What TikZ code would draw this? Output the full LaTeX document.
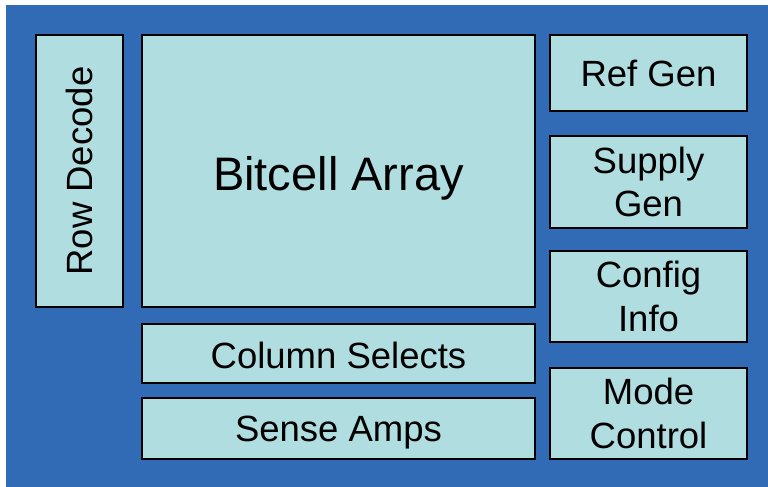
\documentclass[tikz,border=0pt]{standalone}
\usepackage{fontspec}
\setmainfont{Liberation Sans}
\definecolor{panelblue}{RGB}{49,106,181}
\definecolor{cellfill}{RGB}{176,221,224}
\tikzset{
  blk/.style={draw=black, fill=cellfill, line width=1.4pt, inner sep=0pt,
    align=center, font=\fontsize{36.5}{43.5}\selectfont},
  txt/.style={inner sep=0pt, align=center, font=\fontsize{36.5}{43.5}\selectfont}
}
\begin{document}
\begin{tikzpicture}[x=1pt,y=-1pt]
  \useasboundingbox (0,0) rectangle (768,487);
  \fill[panelblue] (6,5) rectangle (768,487);

  % left column
  \node[blk, minimum width=87pt, minimum height=272pt] (row) at (79.5,171) {};
  \node[txt, rotate=90] (rowtxt) at (row.center) {Row Decode};

  % array and its periphery
  \node[blk, minimum width=393pt, minimum height=272pt] (array) at (338.5,171) {};
  \node[txt, font=\fontsize{47}{52}\selectfont, yshift=-7pt] (arraytxt) at (array.center) {Bitcell Array};
  \node[blk, minimum width=393pt, minimum height=59pt] (colsel) at (338.5,353.5) {};
  \node[txt, yshift=-2pt] (colseltxt) at (colsel.center) {Column Selects};
  \node[blk, minimum width=393pt, minimum height=61pt] (sense) at (338.5,428.5) {};
  \node[txt, yshift=-4pt] (sensetxt) at (sense.center) {Sense Amps};

  % right column
  \node[blk, minimum width=197pt, minimum height=76pt] (ref) at (648.5,73) {Ref Gen};
  \node[blk, minimum width=197pt, minimum height=92pt] (supply) at (648.5,182) {Supply\\Gen};
  \node[blk, minimum width=197pt, minimum height=91pt] (config) at (648.5,296.5) {Config\\Info};
  \node[blk, minimum width=197pt, minimum height=91pt] (mode) at (648.5,413.5) {Mode\\Control};
\end{tikzpicture}
\end{document}
